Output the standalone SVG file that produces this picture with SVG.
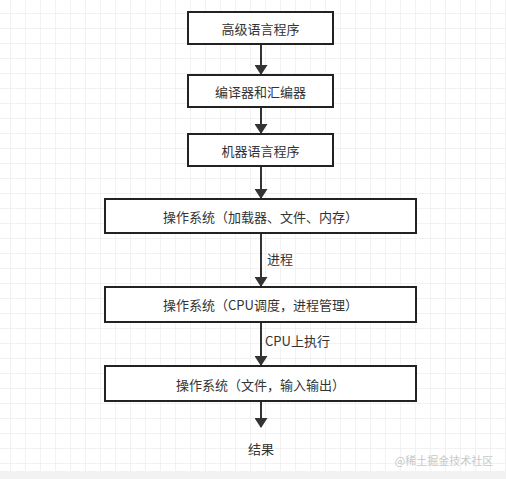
<svg xmlns="http://www.w3.org/2000/svg" width="506" height="479" viewBox="0 0 506 479">
<defs>
<pattern id="grid" x="10" y="13" width="15" height="15" patternUnits="userSpaceOnUse">
<path d="M0 0H15M0 0V15" fill="none" stroke="#e6e6e6" stroke-width="1"/>
</pattern>
<marker id="arr" viewBox="0 0 10 13" refX="9" refY="6.5" markerWidth="10" markerHeight="13" markerUnits="userSpaceOnUse" orient="auto">
<path d="M0 0L10 6.5L0 13z" fill="#333"/>
</marker>
</defs>
<style>
.box{fill:#fff;stroke:#222;stroke-width:2}
.t{font-family:"Noto Sans CJK SC","Liberation Sans",sans-serif;font-size:13px;fill:#333;text-anchor:middle;dominant-baseline:central}
.lbl{font-family:"Noto Sans CJK SC","Liberation Sans",sans-serif;font-size:13px;fill:#333;dominant-baseline:central}
.c{stroke:#333;stroke-width:2;fill:none;marker-end:url(#arr)}
</style>
<rect width="506" height="479" fill="#fff"/>
<rect x="0" y="0" width="506" height="471" fill="url(#grid)"/>
<rect x="0" y="471" width="506" height="8" fill="#f2f2f2"/>
<g id="connectors">
<path class="c" d="M261 44V74"/>
<path class="c" d="M261 107V133"/>
<path class="c" d="M261 166V198"/>
<path class="c" d="M261 233V286"/>
<path class="c" d="M261 322V365"/>
<path class="c" d="M261 401V427"/>
<text class="lbl" x="267" y="258">进程</text>
<text class="lbl" x="265" y="340">CPU上执行</text>
</g>
<g id="n1"><rect class="box" x="188" y="12" width="145" height="32"/><text class="t" x="260.5" y="28">高级语言程序</text></g>
<g id="n2"><rect class="box" x="188" y="75" width="145" height="32"/><text class="t" x="260.5" y="91">编译器和汇编器</text></g>
<g id="n3"><rect class="box" x="188" y="134" width="145" height="32"/><text class="t" x="260.5" y="150">机器语言程序</text></g>
<g id="n4"><rect class="box" x="105" y="199" width="311" height="34"/><text class="t" x="260.5" y="216">操作系统（加载器、文件、内存）</text></g>
<g id="n5"><rect class="box" x="105" y="287" width="311" height="35"/><text class="t" x="260.5" y="304">操作系统（CPU调度，进程管理）</text></g>
<g id="n6"><rect class="box" x="105" y="366" width="311" height="35"/><text class="t" x="260.5" y="384">操作系统（文件，输入输出）</text></g>
<g id="n7"><text class="t" x="261" y="448">结果</text></g>
<text x="444" y="460" font-family="Noto Sans CJK SC,sans-serif" font-size="11" fill="#c8c8c8" text-anchor="middle" dominant-baseline="central">@稀土掘金技术社区</text>
</svg>
